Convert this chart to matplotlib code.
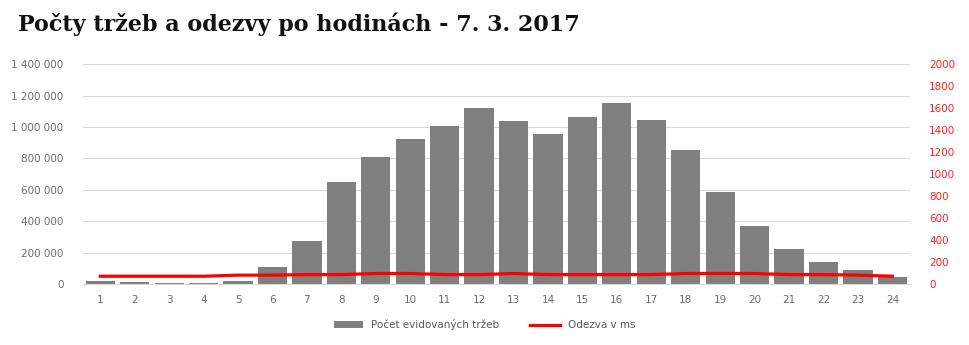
import numpy as np
import matplotlib.pyplot as plt
from matplotlib.ticker import FuncFormatter

hours = list(range(1, 25))
trzby = [20000, 15000, 8000, 8000, 20000, 108000, 274000, 650000, 809000, 924000,
         1006000, 1121000, 1038000, 955000, 1064000, 1153000, 1045000, 854000,
         586000, 369000, 223000, 140000, 89000, 45000]
odezva = [70, 70, 70, 70, 80, 80, 85, 85, 95, 95, 85, 85, 95, 85, 85, 85, 85, 95,
          95, 95, 85, 85, 80, 70]

fig = plt.figure(figsize=(9.69, 3.45), dpi=100)
ax = fig.add_axes([0.0857, 0.177, 0.853, 0.637])
ax2 = ax.twinx()

bars = ax.bar(hours, trzby, width=0.85, color="#7f7f7f", zorder=2,
              label="Počet evidovaných tržeb")
line, = ax2.plot(hours, odezva, color="#ff0000", lw=2.3, zorder=3,
                 label="Odezva v ms")

ax.set_xlim(0.5, 24.5)
ax.set_ylim(0, 1400000)
ax.set_yticks(np.arange(0, 1400001, 200000))
ax.yaxis.set_major_formatter(FuncFormatter(lambda v, p: f"{int(v):,}".replace(",", " ")))
ax.set_xticks(hours)
ax2.set_ylim(0, 2000)
ax2.set_yticks(np.arange(0, 2001, 200))

ax.grid(axis="y", color="#d9d9d9", lw=0.8, zorder=0)
for a in (ax, ax2):
    for s in a.spines.values():
        s.set_visible(False)
ax.spines["bottom"].set_visible(True)
ax.spines["bottom"].set_color("#d9d9d9")
ax.tick_params(axis="both", length=0, labelsize=7.5, labelcolor="#6b6b6b")
ax.tick_params(axis="x", pad=8)
ax.tick_params(axis="y", pad=14)
ax2.tick_params(axis="y", length=0, labelsize=7.5, labelcolor="#ff2020", pad=14)

fig.legend(handles=[bars, line], loc="center", bbox_to_anchor=(0.5, 0.058),
           ncol=2, frameon=False, fontsize=7.5, labelcolor="#595959",
           handlelength=2.8, columnspacing=3)

fig.text(0.019, 0.93, "Počty tržeb a odezvy po hodinách - 7. 3. 2017",
         fontsize=16, family="DejaVu Serif", weight="bold", va="center",
         color="#111111")

fig.savefig("out.png", dpi=100)
